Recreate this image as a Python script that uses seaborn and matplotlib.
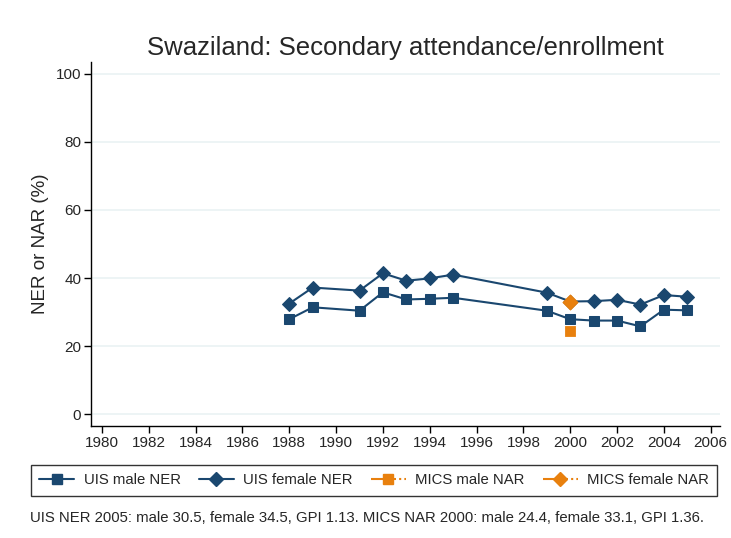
import pandas as pd
import numpy as np
import matplotlib
matplotlib.use("Agg")
import matplotlib.pyplot as plt
import seaborn as sns
from matplotlib.lines import Line2D

# UIS net enrolment
uis_years = [1988, 1989, 1991, 1992, 1993, 1994, 1995, 1999, 2000, 2001, 2002, 2003, 2004, 2005]
uis_male = [27.9, 31.4, 30.4, 35.8, 33.7, 33.9, 34.2, 30.4, 27.9, 27.5, 27.5, 25.8, 30.7, 30.5]
uis_female = [32.5, 37.2, 36.3, 41.4, 39.2, 39.9, 41.0, 35.7, 33.1, 33.2, 33.6, 32.2, 35.0, 34.5]

# MICS net attendance
mics_years = [2000]
mics_male = [24.4]
mics_female = [33.1]

year_ticks = list(range(1980, 2007, 2))
pct_ticks = [0, 20, 40, 60, 80, 100]

navy = "#1a476f"
orange = "#e8800e"

sns.set_style("white")
plt.rcParams["font.family"] = ["Liberation Sans", "DejaVu Sans"]

uis = pd.DataFrame({"year": uis_years, "male": uis_male, "female": uis_female})
mics = pd.DataFrame({"year": mics_years, "male": mics_male, "female": mics_female})

fig = plt.figure(figsize=(7.31, 5.38), dpi=100)
ax = fig.add_axes([0.1245, 0.208, 0.8605, 0.677])

for v in pct_ticks:
    ax.axhline(v, color="#eaf2f3", lw=1.2, zorder=0)

sns.lineplot(data=uis, x="year", y="male", ax=ax, color=navy, marker="s",
             markersize=7, markeredgecolor=navy, lw=1.5, zorder=3)
sns.lineplot(data=uis, x="year", y="female", ax=ax, color=navy, marker="D",
             markersize=7.5, markeredgecolor=navy, lw=1.5, zorder=3)
sns.scatterplot(data=mics, x="year", y="male", ax=ax, color=orange, marker="s",
                s=55, edgecolor=orange, zorder=4)
sns.scatterplot(data=mics, x="year", y="female", ax=ax, color=orange, marker="D",
                s=60, edgecolor=orange, zorder=4)

ax.set_xlim(1979.53, 2006.4)
ax.set_ylim(-3.5, 103.5)
ax.set_xticks(year_ticks)
ax.set_yticks(pct_ticks)
ax.tick_params(axis="both", direction="out", length=5, width=1, labelsize=11,
               color="black", bottom=True, left=True, pad=2)
for s in ["top", "right"]:
    ax.spines[s].set_visible(False)
for s in ["left", "bottom"]:
    ax.spines[s].set_color("black")
    ax.spines[s].set_linewidth(1)
ax.set_xlabel("")
ax.set_ylabel("NER or NAR (%)", fontsize=13.5, labelpad=5)
ax.set_title("Swaziland: Secondary attendance/enrollment", fontsize=18.5, pad=5)

dashdot = (0, (7, 1.5, 1, 1.5, 1, 1.5, 1, 1.5))
handles = [
    Line2D([], [], color=navy, marker="s", markersize=7, lw=1.5),
    Line2D([], [], color=navy, marker="D", markersize=7, lw=1.5),
    Line2D([], [], color=orange, marker="s", markersize=7, lw=1.5, linestyle=dashdot),
    Line2D([], [], color=orange, marker="D", markersize=7, lw=1.5, linestyle=dashdot),
]
labels = ["UIS male NER", "UIS female NER", "MICS male NAR", "MICS female NAR"]
leg = fig.legend(handles, labels, loc="center", ncol=4,
                 bbox_to_anchor=(0.512, 0.107), fontsize=10.7,
                 frameon=True, fancybox=False, edgecolor="black",
                 handlelength=2.35, handletextpad=0.65, borderaxespad=0,
                 columnspacing=1.2, borderpad=0.55)
leg.get_frame().set_linewidth(1)

fig.text(0.041, 0.038, "UIS NER 2005: male 30.5, female 34.5, GPI 1.13. MICS NAR 2000: male 24.4, female 33.1, GPI 1.36.",
         fontsize=10.7, va="center", ha="left")

fig.savefig("out.png", dpi=100)
